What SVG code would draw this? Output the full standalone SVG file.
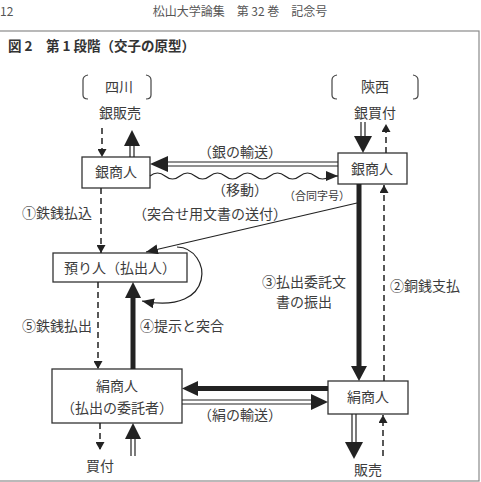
<svg xmlns="http://www.w3.org/2000/svg" width="481" height="482" viewBox="0 0 481 482">
<defs>
<style>
text{font-family:"Noto Sans CJK JP","Noto Sans CJK SC",sans-serif;fill:#3c3c3c;}
.lbl{font-size:14px;}
.ctr{text-anchor:middle;}
.sml{font-size:11px;}
.box{fill:#fff;stroke:#333;stroke-width:1.3;}
.ln{stroke:#222;fill:none;stroke-width:1.2;}
.dash{stroke:#222;fill:none;stroke-width:1.5;stroke-dasharray:6 4;}
.thick{stroke:#222;fill:none;stroke-width:5;}
.head{fill:#222;}
.brk{stroke:#444;fill:none;stroke-width:1.2;}
</style>
<marker id="sm" markerUnits="userSpaceOnUse" markerWidth="8" markerHeight="9" refX="8" refY="4.5" orient="auto">
<path d="M0,0 L8,4.5 L0,9 z" fill="#222"/>
</marker>
<marker id="mid" markerUnits="userSpaceOnUse" markerWidth="13" markerHeight="10" refX="12" refY="5" orient="auto">
<path d="M0,0 L12,5 L0,10 z" fill="#222"/>
</marker>
</defs>
<rect width="481" height="482" fill="#fff"/>
<text x="0" y="16" style="font-size:12px;fill:#555">12</text>
<text x="240" y="16" class="ctr" style="font-size:12px;fill:#555">松山大学論集　第 32 巻　記念号</text>
<rect x="-1" y="31" width="480" height="450" fill="none" stroke="#8a8a8a" stroke-width="1.2"/>
<text x="8" y="51" style="font-size:13.5px;font-weight:bold;fill:#333">図 2　第 1 段階（交子の原型）</text>

<g id="sichuan">
<path class="brk" d="M88,75 Q83,76 83,80 L83,95 Q83,99 88,99"/>
<path class="brk" d="M146,75 Q151,76 151,80 L151,95 Q151,99 146,99"/>
<text x="119" y="92" class="lbl ctr">四川</text>
<text x="120" y="118" class="lbl ctr">銀販売</text>
</g>
<g id="shaanxi">
<path class="brk" d="M337,75 Q332,76 332,80 L332,95 Q332,99 337,99"/>
<path class="brk" d="M413,75 Q418,76 418,80 L418,95 Q418,99 413,99"/>
<text x="375" y="92" class="lbl ctr">陝西</text>
<text x="375" y="118" class="lbl ctr">銀買付</text>
</g>
<g id="silver-left">
<rect x="82" y="157" width="68" height="31" class="box"/>
<text x="116" y="177" class="lbl ctr">銀商人</text>
</g>
<g id="silver-right">
<rect x="338" y="153" width="69" height="31" class="box"/>
<text x="372" y="174" class="lbl ctr">銀商人</text>
</g>
<g id="depositary">
<rect x="53" y="253" width="134" height="29" class="box"/>
<text x="120" y="273" class="lbl ctr">預り人（払出人）</text>
</g>
<g id="silk-left">
<rect x="52" y="369" width="130" height="54" class="box"/>
<text x="117" y="391" class="lbl ctr">絹商人</text>
<text x="117" y="413" class="lbl ctr">（払出の委託者）</text>
</g>
<g id="silk-right">
<rect x="328" y="381" width="80" height="33" class="box"/>
<text x="368" y="402" class="lbl ctr">絹商人</text>
</g>

<g id="connectors">
<line x1="102" y1="128" x2="102" y2="157" class="dash" marker-end="url(#sm)"/>
<line x1="130" y1="157" x2="130" y2="145" class="ln"/>
<line x1="134" y1="157" x2="134" y2="145" class="ln"/>
<polygon points="132,130 124,146 140,146" class="head"/>

<line x1="166" y1="162" x2="338" y2="162" class="ln"/>
<line x1="166" y1="166" x2="338" y2="166" class="ln"/>
<polygon points="150,164 168,156 168,172" class="head"/>

<path d="M150,176 q7.5,-6 15,0 t15,0 t15,0 t15,0 t15,0 t15,0 t15,0 t15,0 t15,0 t15,0 t15,0 t15,0" class="ln" stroke-width="1.6"/>
<line x1="330" y1="176" x2="338" y2="176" class="ln" marker-end="url(#mid)"/>

<line x1="361" y1="122" x2="361" y2="137" class="ln"/>
<line x1="365" y1="122" x2="365" y2="137" class="ln"/>
<polygon points="363,153 354,136 372,136" class="head"/>
<line x1="386" y1="153" x2="386" y2="124" class="dash" marker-end="url(#sm)"/>

<line x1="359" y1="184" x2="359" y2="368" class="thick"/>
<polygon points="359,381 351,366 367,366" class="head"/>
<line x1="384" y1="381" x2="384" y2="185" class="dash" marker-end="url(#sm)"/>
<line x1="383" y1="456" x2="383" y2="415" class="dash" marker-end="url(#sm)"/>

<line x1="352" y1="414" x2="352" y2="444" class="ln"/>
<line x1="356" y1="414" x2="356" y2="444" class="ln"/>
<polygon points="354,459 345,442 363,442" class="head"/>

<line x1="101" y1="188" x2="101" y2="253" class="dash" marker-end="url(#sm)"/>
<line x1="98" y1="282" x2="98" y2="369" class="dash" marker-end="url(#sm)"/>
<line x1="100" y1="423" x2="100" y2="450" class="dash" marker-end="url(#sm)"/>

<line x1="131" y1="456" x2="131" y2="438" class="ln"/>
<line x1="135" y1="456" x2="135" y2="438" class="ln"/>
<polygon points="133,423 125,439 141,439" class="head"/>

<line x1="133" y1="369" x2="133" y2="296" class="thick"/>
<polygon points="133,282 125,298 141,298" class="head"/>

<line x1="357" y1="203" x2="146" y2="252" class="ln" stroke-width="1.6" marker-end="url(#mid)"/>
<path d="M177,247 C212,248 218,316 142,301" class="ln" stroke-width="1.6" marker-end="url(#mid)"/>

<line x1="196" y1="388.5" x2="328" y2="388.5" class="thick"/>
<polygon points="182,388.5 198,381 198,396" class="head"/>

<line x1="182" y1="400" x2="313" y2="400" class="ln"/>
<line x1="182" y1="404" x2="313" y2="404" class="ln"/>
<polygon points="328,402 311,394 311,410" class="head"/>
</g>

<g id="labels">
<text x="240" y="157" class="lbl ctr">（銀の輸送）</text>
<text x="240" y="195" class="lbl ctr">（移動）</text>
<text x="317" y="200" class="sml ctr">（合同字号）</text>
<text x="210" y="219" class="lbl ctr">（突合せ用文書の送付）</text>
<text x="22" y="218" class="lbl">①鉄銭払込</text>
<text x="22" y="331" class="lbl">⑤鉄銭払出</text>
<text x="140" y="331" class="lbl">④提示と突合</text>
<text x="304" y="287" class="lbl ctr">③払出委託文</text>
<text x="304" y="307" class="lbl ctr">書の振出</text>
<text x="390" y="291" class="lbl">②銅銭支払</text>
<text x="240" y="420" class="lbl ctr">（絹の輸送）</text>
<text x="100" y="471" class="lbl ctr">買付</text>
<text x="368" y="475" class="lbl ctr">販売</text>
</g>
</svg>
